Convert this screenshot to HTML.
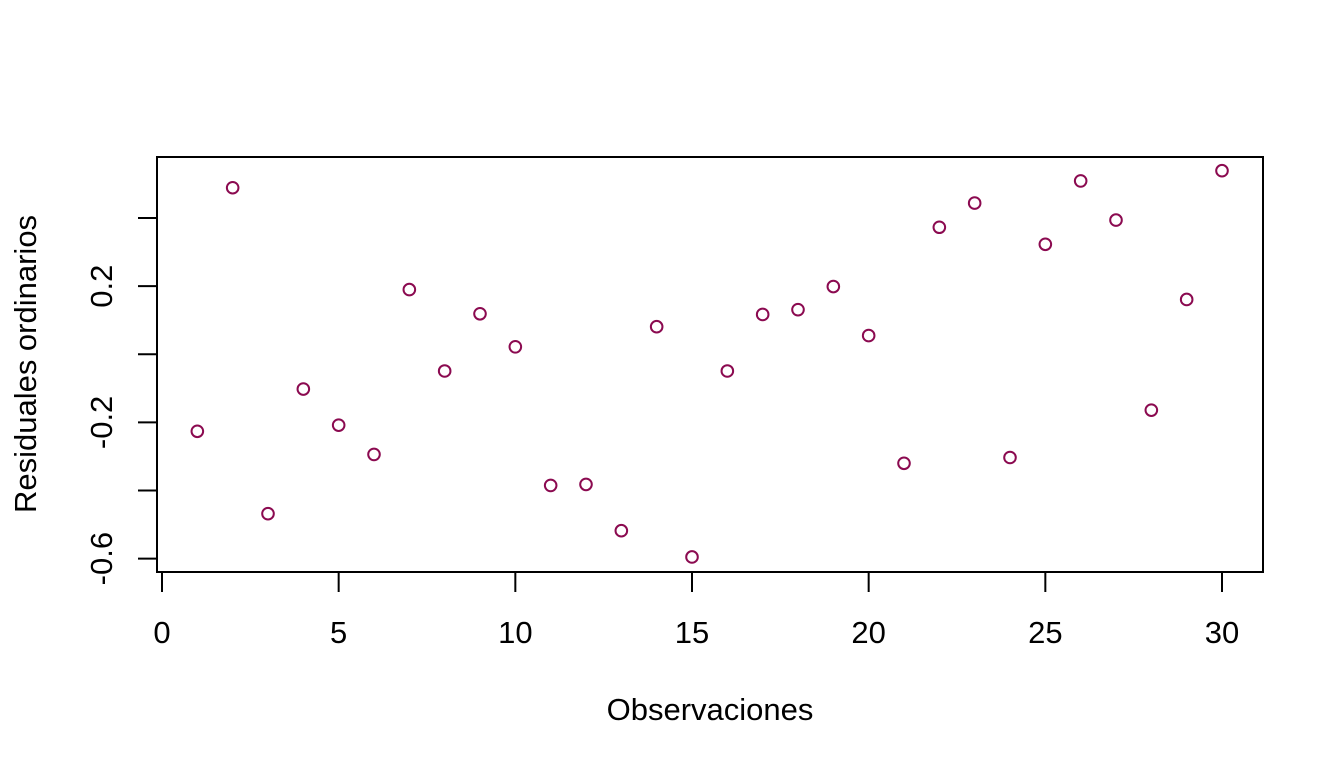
<!DOCTYPE html>
<html><head><meta charset="utf-8"><style>
body{margin:0;background:#fff;}
svg text{font-family:"Liberation Sans",Arial,sans-serif;font-size:31px;fill:#000;}
</style></head><body>
<svg id="chart" width="1344" height="768" viewBox="0 0 1344 768">
<rect x="157" y="157" width="1106" height="415" fill="none" stroke="#000" stroke-width="2"/>
<g id="xaxis"></g>
<g id="yaxis"></g>
<g id="points"></g>
<text x="710" y="720" text-anchor="middle">Observaciones</text>
<text transform="translate(36,364) rotate(-90)" text-anchor="middle">Residuales ordinarios</text>
</svg>
<script>
const obs = [1,2,3,4,5,6,7,8,9,10,11,12,13,14,15,16,17,18,19,20,21,22,23,24,25,26,27,28,29,30];
const residuals = [-0.226,0.489,-0.468,-0.102,-0.208,-0.294,0.190,-0.049,0.119,0.022,-0.385,-0.382,-0.518,0.081,-0.595,-0.049,0.117,0.131,0.199,0.055,-0.320,0.373,0.444,-0.303,0.323,0.509,0.394,-0.164,0.161,0.539];
const xTicks = [0,5,10,15,20,25,30];
const yTicks = [-0.6,-0.4,-0.2,0,0.2,0.4];
const yTickLabels = ["-0.6","","-0.2","","0.2",""];
const NS='http://www.w3.org/2000/svg';
function X(v){return 162+v*(1222-162)/30;}
function Y(v){return 354.3-v*340.6;}
function mk(t,a,p){const e=document.createElementNS(NS,t);for(const k in a)e.setAttribute(k,a[k]);p.appendChild(e);return e;}
const xa=document.getElementById('xaxis'),ya=document.getElementById('yaxis'),pg=document.getElementById('points');
mk('line',{x1:X(xTicks[0]),x2:X(xTicks[xTicks.length-1]),y1:572,y2:572,stroke:'#000','stroke-width':2},xa);
xTicks.forEach(t=>{
  const l=mk('line',{x1:X(t),x2:X(t),y1:572,y2:592,stroke:'#000','stroke-width':2},xa);
  
  
  const tx=mk('text',{x:X(t),y:643,'text-anchor':'middle'},xa);tx.textContent=t;
  
  
});
yTicks.forEach((t,i)=>{
  const l=mk('line',{x1:138,x2:157,y1:Y(t),y2:Y(t),stroke:'#000','stroke-width':2},ya);
  
  
  if(yTickLabels[i]){
    const tx=mk('text',{transform:`translate(112,${Y(t)}) rotate(-90)`,'text-anchor':'middle'},ya);tx.textContent=yTickLabels[i];
    
    
  }
});
obs.forEach((o,i)=>{
  const c=mk('circle',{cx:X(o),cy:Y(residuals[i]),r:5.8,fill:'none',stroke:'#8B0A50','stroke-width':2},pg);
  
  
});
</script>
</body></html>
